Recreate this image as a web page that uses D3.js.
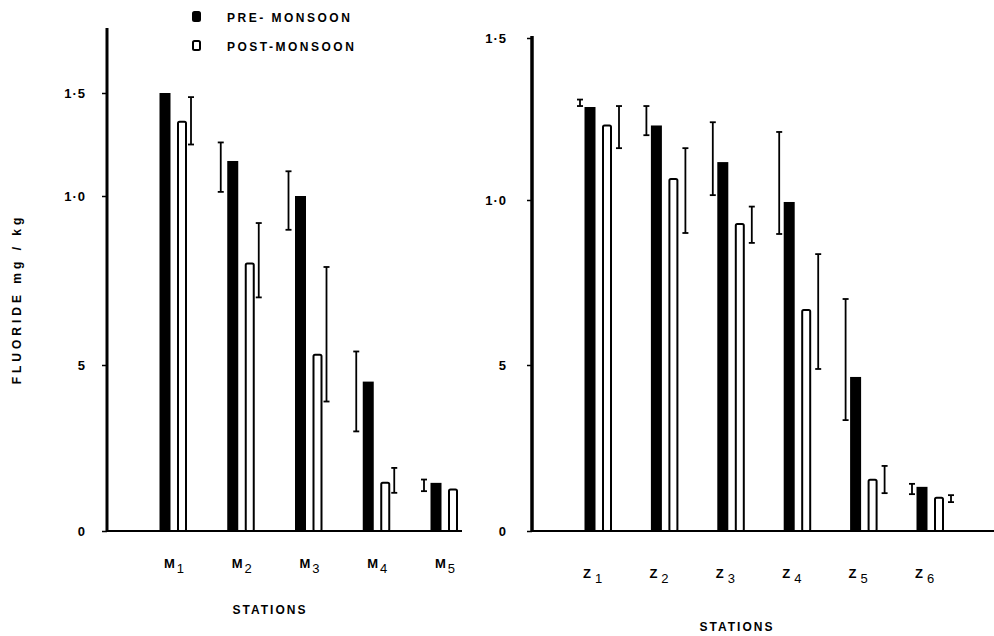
<!DOCTYPE html>
<html>
<head>
<meta charset="utf-8">
<script src="https://cdn.jsdelivr.net/npm/d3@7"></script>
<style>
  body { margin: 0; background: #fff; }
  text { font-family: "Liberation Sans", Arial, sans-serif; font-weight: bold; fill: #000; }
</style>
</head>
<body>
<div id="chart"></div>
<script>

// tick values and their printed labels
let tickValues = [0, 0.5, 1.0, 1.5]
let tickLabels = ["0", "5", "1·0", "1·5"]

// M stations (left panel)
let mStations = ["M1", "M2", "M3", "M4", "M5"]
let mPre      = [1.50, 1.17, 1.00, 0.45, 0.145]
let mPreLo    = [null, 1.02, 0.90, 0.30, 0.12]
let mPreHi    = [null, 1.26, 1.12, 0.54, 0.155]
let mPost     = [1.36, 0.80, 0.53, 0.145, 0.125]
let mPostLo   = [1.25, 0.70, 0.39, 0.115, null]
let mPostHi   = [1.48, 0.92, 0.79, 0.19, null]

// Z stations (right panel)
let zStations = ["Z1", "Z2", "Z3", "Z4", "Z5", "Z6"]
let zPre      = [1.287, 1.23, 1.117, 0.994, 0.464, 0.133]
let zPreLo    = [1.29, 1.20, 1.015, 0.897, 0.334, 0.111]
let zPreHi    = [1.31, 1.29, 1.24, 1.21, 0.70, 0.142]
let zPost     = [1.23, 1.065, 0.927, 0.667, 0.154, 0.10]
let zPostLo   = [1.16, 0.90, 0.87, 0.488, 0.114, 0.087]
let zPostHi   = [1.29, 1.16, 0.98, 0.836, 0.196, 0.108]

let width = 994
let height = 636

let svg = d3.select("#chart")
    .append("svg")
        .attr("width", width)
        .attr("height", height)

svg.append("rect")
    .attr("width", width)
    .attr("height", height)
    .attr("fill", "#fff")

function panel(opts){

    let data = opts.stations.map(function(s, i){
        return {
            name: s,
            pre: opts.pre[i], preLo: opts.preLo[i], preHi: opts.preHi[i],
            post: opts.post[i], postLo: opts.postLo[i], postHi: opts.postHi[i]
        }
    })

    // the printed axis is not evenly spaced, so the scale is piecewise
    let y = d3.scaleLinear()
        .domain(tickValues)
        .range(opts.yRange)

    let x = d3.scalePoint()
        .domain(opts.stations)
        .range(opts.xRange)

    let g = svg.append("g")

    //Y-AXIS
    g.append("line")
        .attr("x1", opts.axisX).attr("x2", opts.axisX)
        .attr("y1", opts.axisTop).attr("y2", y(0) + 1)
        .attr("stroke", "#000")
        .attr("stroke-width", opts.axisWidth)

    let yAxis = g.append("g")
        .attr("transform", `translate(${opts.axisX},0)`)
        .call(d3.axisLeft(y)
            .tickValues(tickValues)
            .tickFormat(function(d, i){ return tickLabels[i] })
            .tickSize(5)
            .tickPadding(opts.tickPad))
    yAxis.select(".domain").remove()
    yAxis.selectAll("line").attr("stroke", "#000").attr("stroke-width", 1.5)
    yAxis.selectAll("text")
        .attr("font-size", 13)
        .attr("font-family", "Liberation Sans, Arial, sans-serif")
        .attr("font-weight", "bold")
        .attr("fill", "#000")
        .attr("letter-spacing", 1)

    //X-AXIS LINE
    g.append("line")
        .attr("x1", opts.axisX).attr("x2", opts.axisRight)
        .attr("y1", y(0)).attr("y2", y(0))
        .attr("stroke", "#000")
        .attr("stroke-width", 2)

    //PRE-MONSOON BARS
    g.selectAll(".pre")
        .data(data)
        .enter()
        .append("rect")
            .attr("x", function(d){ return x(d.name) - 5.5 })
            .attr("y", function(d){ return y(d.pre) })
            .attr("width", 11)
            .attr("height", function(d){ return y(0) - y(d.pre) })
            .attr("fill", "#000")

    //POST-MONSOON BARS
    g.selectAll(".post")
        .data(data)
        .enter()
        .append("rect")
            .attr("x", function(d){ return x(d.name) + opts.postOff })
            .attr("y", function(d){ return y(d.post) })
            .attr("width", 8)
            .attr("height", function(d){ return y(0) - y(d.post) })
            .attr("rx", 1.5)
            .attr("fill", "#fff")
            .attr("stroke", "#000")
            .attr("stroke-width", 2)

    //ERROR BARS
    function errorBars(lo, hi, off){
        let e = g.selectAll(null)
            .data(data.filter(function(d){ return d[lo] != null }))
            .enter()
            .append("g")
                .attr("transform", function(d){ return `translate(${x(d.name) + off},0)` })
        e.append("line")
            .attr("y1", function(d){ return y(d[lo]) })
            .attr("y2", function(d){ return y(d[hi]) })
            .attr("stroke", "#000").attr("stroke-width", 1.8)
        e.append("line")
            .attr("x1", -3).attr("x2", 3)
            .attr("y1", function(d){ return y(d[lo]) })
            .attr("y2", function(d){ return y(d[lo]) })
            .attr("stroke", "#000").attr("stroke-width", 1.8)
        e.append("line")
            .attr("x1", -3).attr("x2", 3)
            .attr("y1", function(d){ return y(d[hi]) })
            .attr("y2", function(d){ return y(d[hi]) })
            .attr("stroke", "#000").attr("stroke-width", 1.8)
    }
    errorBars("preLo", "preHi", opts.preErrOff)
    errorBars("postLo", "postHi", opts.postErrOff)

    //STATION LABELS
    let lab = g.selectAll(".lab")
        .data(data)
        .enter()
        .append("text")
            .attr("x", function(d){ return x(d.name) + opts.labOff })
            .attr("y", opts.labY)
            .attr("font-size", 13)
    lab.append("tspan").text(function(d){ return d.name[0] })
    lab.append("tspan")
        .attr("dx", opts.subDx)
        .attr("dy", 5)
        .attr("font-size", 13)
        .attr("font-weight", "normal")
        .text(function(d){ return d.name.slice(1) })

    g.append("text")
        .attr("x", opts.titleX)
        .attr("y", opts.titleY)
        .attr("text-anchor", "middle")
        .attr("font-size", 12)
        .attr("letter-spacing", 2)
        .text("STATIONS")
}

panel({
    stations: mStations, pre: mPre, preLo: mPreLo, preHi: mPreHi,
    post: mPost, postLo: mPostLo, postHi: mPostHi,
    yRange: [531, 365, 196, 93], xRange: [165, 436],
    axisX: 107, axisTop: 28, axisRight: 462, axisWidth: 3, tickPad: 16,
    postOff: 13, preErrOff: -12, postErrOff: 26,
    labOff: -1, labY: 568, subDx: 2,
    titleX: 270, titleY: 614
})

panel({
    stations: zStations, pre: zPre, preLo: zPreLo, preHi: zPreHi,
    post: zPost, postLo: zPostLo, postHi: zPostHi,
    yRange: [531, 365, 200, 38], xRange: [590, 922],
    axisX: 532, axisTop: 36, axisRight: 994, axisWidth: 3.5, tickPad: 20,
    postOff: 13, preErrOff: -10, postErrOff: 29,
    labOff: -7, labY: 578, subDx: 4,
    titleX: 737, titleY: 631
})

//Y-AXIS TITLE
svg.append("text")
    .attr("transform", "translate(21,299) rotate(-90)")
    .attr("text-anchor", "middle")
    .attr("font-size", 12)
    .attr("letter-spacing", 4)
    .text("FLUORIDE  mg / kg")

//LEGEND
let legendItems = ["PRE- MONSOON", "POST-MONSOON"]
let legend = svg.selectAll(".legend")
    .data(legendItems)
    .enter()
    .append("g")
        .attr("transform", function(d, i){ return `translate(193,${12 + i * 29})` })
legend.append("rect")
    .attr("width", 7)
    .attr("height", 9)
    .attr("rx", 1.5)
    .attr("fill", function(d, i){ return i == 0 ? "#000" : "#fff" })
    .attr("stroke", "#000")
    .attr("stroke-width", 2)
legend.append("text")
    .attr("x", 34)
    .attr("y", 10)
    .attr("font-size", 12)
    .attr("letter-spacing", 2.5)
    .text(function(d){ return d })

</script>
</body>
</html>
